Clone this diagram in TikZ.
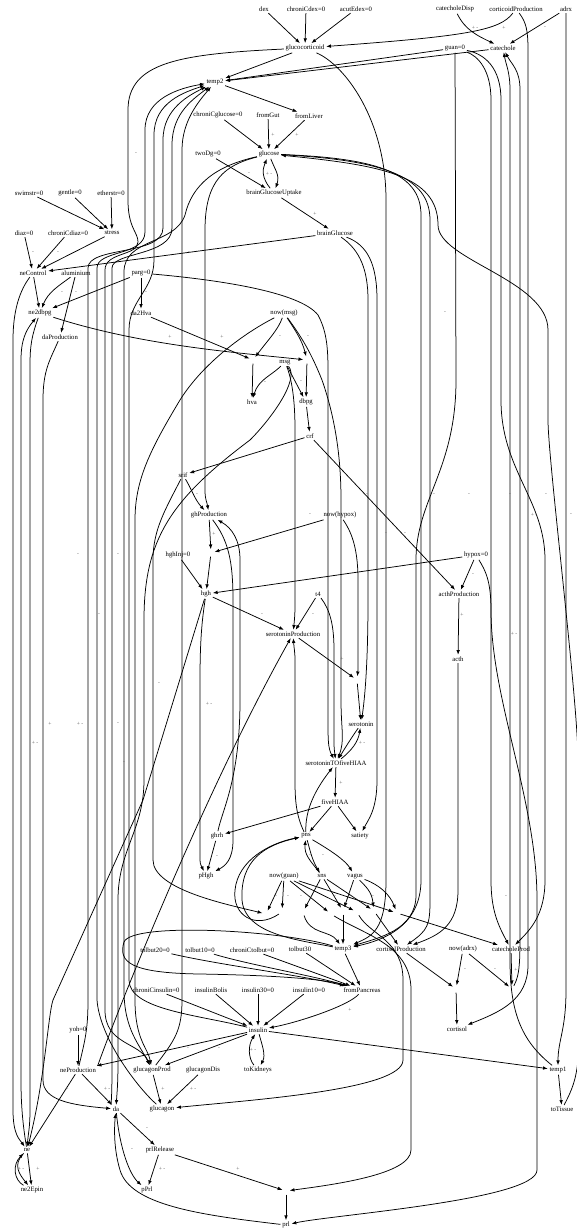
\documentclass[tikz,border=0pt]{standalone}
\usepackage{fontspec}
\setmainfont{Liberation Serif}
\usetikzlibrary{arrows.meta}
\tikzset{
  n/.style={font=\fontsize{6.7}{7}\selectfont, inner sep=1.6pt},
  pt/.style={inner sep=0pt, minimum size=7pt, shape=circle},
  e/.style={-{Latex[length=4.8pt,width=3.6pt]}, line width=0.75pt},
  lb/.style={font=\fontsize{5.6}{5.6}\selectfont, text=black!62, inner sep=0pt}
}
\begin{document}
\begin{tikzpicture}[x=1pt,y=-1pt]
\useasboundingbox (0,0) rectangle (576,1231);
\fill[white] (0,0) rectangle (576,1231);
% ---------- variables ----------
\node[n] (dex) at (264,9) {dex};
\node[n] (chroniCdex) at (306,9) {chroniCdex=0};
\node[n] (acutEdex) at (356,9) {acutEdex=0};
\node[n] (catecholeDisp) at (455,9) {catecholeDisp};
\node[n] (corticoidProduction) at (516,9) {corticoidProduction};
\node[n] (adrx) at (566,9) {adrx};
\node[n] (glucocorticoid) at (305,48) {glucocorticoid};
\node[n] (guan) at (455,48) {guan=0};
\node[n] (catechole) at (503,48) {catechole};
\node[n] (temp2) at (215,82) {temp2};
\node[n] (chroniCglucose) at (218,115) {chroniCglucose=0};
\node[n] (fromGut) at (268,115) {fromGut};
\node[n] (fromLiver) at (309,116) {fromLiver};
\node[n] (twoDg) at (208,154) {twoDg=0};
\node[n] (glucose) at (269,154) {glucose};
\node[n] (bgu) at (274,193) {brainGlucoseUptake};
\node[n] (swimstr) at (29,193) {swimstr=0};
\node[n] (gentle) at (70,193) {gentle=0};
\node[n] (etherstr) at (111,193) {etherstr=0};
\node[n] (brainGlucose) at (335,233) {brainGlucose};
\node[n] (diaz) at (24,233) {diaz=0};
\node[n] (chroniCdiaz) at (68,233) {chroniCdiaz=0};
\node[n] (stress) at (112,233) {stress};
\node[n] (neControl) at (33,273) {neControl};
\node[n] (aluminium) at (76,273) {aluminium};
\node[n] (parg) at (141,273) {parg=0};
\node[n] (ne2dbpg) at (40,313) {ne2dbpg};
\node[n] (da2Hva) at (141,313) {da2Hva};
\node[n] (nowmsg) at (284,313) {now(msg)};
\node[n] (daProduction) at (60,337) {daProduction};
\node[n] (msg) at (285,362) {msg};
\node[n] (hva) at (252,402) {hva};
\node[n] (dbpg) at (306,402) {dbpg};
\node[n] (crf) at (310,436) {crf};
\node[n] (srif) at (183,475) {srif};
\node[n] (ghProduction) at (209,515) {ghProduction};
\node[n] (nowhypox) at (340,515) {now(hypox)};
\node[n] (hghInj) at (178,555) {hghInj=0};
\node[n] (hypox) at (476,555) {hypox=0};
\node[n] (hgh) at (206,594) {hgh};
\node[n] (t4) at (318,594) {t4};
\node[n] (acthProduction) at (459,594) {acthProduction};
\node[n] (serotoninProduction) at (293,634) {serotoninProduction};
\node[n] (acth) at (458,659) {acth};
\node[n] (serotonin) at (361,724) {serotonin};
\node[n] (s2f) at (336,763) {serotoninTOfiveHIAA};
\node[n] (fiveHIAA) at (335,802) {fiveHIAA};
\node[n] (ghrh) at (217,836) {ghrh};
\node[n] (pns) at (306,836) {pns};
\node[n] (satiety) at (360,836) {satiety};
\node[n] (pHgh) at (206,876) {pHgh};
\node[n] (nowguan) at (284,876) {now(guan)};
\node[n] (sns) at (322,876) {sns};
\node[n] (vagus) at (355,876) {vagus};
\node[n] (tolbut20) at (155,950) {tolbut20=0};
\node[n] (tolbut10) at (200,950) {tolbut10=0};
\node[n] (chroniCtolbut) at (252,950) {chroniCtolbut=0};
\node[n] (tolbut30) at (300,949) {tolbut30};
\node[n] (temp3) at (343,949) {temp3};
\node[n] (cortisolProduction) at (401,949) {cortisolProduction};
\node[n] (nowadrx) at (463,949) {now(adrx)};
\node[n] (catecholeProd) at (511,949) {catecholeProd};
\node[n] (chroniCinsulin) at (156,990) {chroniCinsulin=0};
\node[n] (insulinBolis) at (211,990) {insulinBolis};
\node[n] (insulin30) at (258,990) {insulin30=0};
\node[n] (insulin10) at (309,990) {insulin10=0};
\node[n] (fromPancreas) at (362,990) {fromPancreas};
\node[n] (cortisol) at (457,1029) {cortisol};
\node[n] (insulin) at (258,1030) {insulin};
\node[n] (yoh) at (78,1030) {yoh=0};
\node[n] (neProduction) at (78,1070) {neProduction};
\node[n] (glucagonProd) at (152,1070) {glucagonProd};
\node[n] (glucagonDis) at (203,1070) {glucagonDis};
\node[n] (toKidneys) at (258,1070) {toKidneys};
\node[n] (temp1) at (558,1070) {temp1};
\node[n] (da) at (116,1109) {da};
\node[n] (glucagon) at (162,1109) {glucagon};
\node[n] (toTissue) at (562,1109) {toTissue};
\node[n] (ne) at (27,1150) {ne};
\node[n] (prlRelease) at (160,1150) {prlRelease};
\node[n] (ne2Epin) at (32,1190) {ne2Epin};
\node[n] (pPrl) at (147,1190) {pPrl};
\node[n] (prl) at (286,1225) {prl};
% ---------- unlabelled junctions ----------
\node[pt] (Phva) at (253,360) {};
\node[pt] (Pdb) at (307,360) {};
\node[pt] (Phgh) at (211,553) {};
\node[pt] (Pser) at (357,680) {};
\node[pt] (Pcort) at (456,989) {};
\node[pt] (Pcat) at (512,989) {};
\node[pt] (Pprl) at (286,1191) {};
\node[pt] (Q1) at (266,914) {};
\node[pt] (Q2) at (282,912) {};
\node[pt] (Q3) at (303,912) {};
\node[pt] (Q4) at (331,914) {};
\node[pt] (Q5) at (343,911) {};
\node[pt] (Q6) at (357,912) {};
\node[pt] (Q7) at (374,911) {};
\node[pt] (Q8) at (397,913) {};
% ---------- top ----------
\draw[e] (dex) -- (glucocorticoid);
\draw[e] (chroniCdex) -- (glucocorticoid);
\draw[e] (acutEdex) -- (glucocorticoid);
\draw[e] (corticoidProduction) .. controls (500,30) and (470,36) .. (glucocorticoid);
\draw[e] (catecholeDisp) .. controls (465,30) and (478,36) .. (catechole);
\draw[e] (adrx) -- (catechole);
\draw[e] (corticoidProduction) .. controls (526,22) and (528,30) .. (528,50) -- (528,965) .. controls (528,1000) and (500,1012) .. (cortisol);
\draw[e] (adrx) -- (566,990) .. controls (566,1030) and (558,1040) .. (temp1);
\draw[e] (glucocorticoid) -- (temp2);
\draw[e] (guan) -- (temp2);
\draw[e] (catechole) -- (temp2);
\draw[e] (glucocorticoid) .. controls (180,54) and (128,62) .. (128,110) -- (128,200) .. controls (128,228) and (138,232) .. (138,242) .. controls (138,256) and (105,252) .. (105,270) -- (105,1010) .. controls (105,1045) and (140,1042) .. (glucagonProd);
\draw[e] (glucocorticoid) .. controls (345,65) and (386,120) .. (386,200) -- (386,880) .. controls (386,930) and (372,936) .. (temp3);
\draw[e] (guan) -- (456,380) .. controls (456,470) and (416,500) .. (416,560) -- (416,895) .. controls (416,930) and (378,938) .. (temp3);
\draw[e] (guan) .. controls (478,56) and (491,70) .. (491,100) -- (491,880) .. controls (491,910) and (498,925) .. (catecholeProd);
\draw[e] (guan) .. controls (485,54) and (501,68) .. (501,100) -- (501,400) .. controls (501,470) and (545,500) .. (545,560) -- (545,880) .. controls (545,915) and (530,930) .. (catecholeProd);
\draw[e] (Pcat) .. controls (520,975) and (520,960) .. (520,930) -- (520,90) .. controls (520,70) and (512,65) .. (catechole);
\draw[e] (temp1) .. controls (520,1040) and (510,1010) .. (510,960) -- (510,90) .. controls (510,72) and (506,65) .. (catechole);
% ---------- glucose ----------
\draw[e] (chroniCglucose) -- (glucose);
\draw[e] (fromGut) -- (glucose);
\draw[e] (fromLiver) -- (glucose);
\draw[e] (temp2) -- (fromLiver);
\draw[e] (twoDg) -- (bgu);
\draw[e] (glucose) .. controls (275,170) and (280,175) .. (bgu);
\draw[e] (bgu) .. controls (262,178) and (262,170) .. (glucose);
\draw[e] (bgu) -- (brainGlucose);
\draw[e] (brainGlucose) -- (neControl);
\draw[e] (glucose) .. controls (225,165) and (205,180) .. (205,230) -- (205,490) .. controls (205,500) and (207,502) .. (ghProduction);
\draw[e] (glucose) .. controls (215,166) and (192,185) .. (185,215) .. controls (175,245) and (124,238) .. (124,272) -- (124,990) .. controls (124,1030) and (140,1045) .. (glucagonProd);
\draw[e] (glucose) .. controls (370,158) and (421,170) .. (421,215) -- (421,880) .. controls (421,925) and (385,940) .. (temp3);
\draw[e] (glucose) .. controls (380,160) and (430,175) .. (430,220) -- (430,900) .. controls (430,925) and (428,930) .. (cortisolProduction);
\draw[e] (toTissue) .. controls (572,1090) and (576,1080) .. (578,1060) -- (578,760) .. controls (578,700) and (548,460) .. (548,420) -- (548,330) .. controls (548,280) and (438,260) .. (438,225) .. controls (438,175) and (380,165) .. (glucose);
% ---------- stress, ne control ----------
\draw[e] (swimstr) -- (stress);
\draw[e] (gentle) -- (stress);
\draw[e] (etherstr) -- (stress);
\draw[e] (diaz) -- (neControl);
\draw[e] (chroniCdiaz) -- (neControl);
\draw[e] (stress) -- (neControl);
\draw[e] (neControl) -- (ne2dbpg);
\draw[e] (aluminium) .. controls (60,285) and (48,292) .. (ne2dbpg);
\draw[e] (aluminium) -- (daProduction);
\draw[e] (parg) -- (ne2dbpg);
\draw[e] (parg) -- (da2Hva);
\draw[e] (parg) .. controls (220,280) and (300,292) .. (318,315) .. controls (326,330) and (328,345) .. (328,370) -- (328,720) .. controls (328,740) and (328,748) .. (s2f);
\draw[e] (neControl) .. controls (20,290) and (13,310) .. (13,340) -- (13,1110) .. controls (13,1135) and (20,1140) .. (ne);
\draw[e] (ne) .. controls (22,1120) and (21,1100) .. (21,1080) -- (21,360) .. controls (21,340) and (26,330) .. (ne2dbpg);
\draw[e] (ne2dbpg) .. controls (32,335) and (30,345) .. (30,365) -- (30,1110) .. controls (30,1128) and (28,1135) .. (ne);
\draw[e] (ne2dbpg) .. controls (140,345) and (230,352) .. (Pdb);
\draw[e] (da2Hva) -- (Phva);
\draw[e] (nowmsg) .. controls (278,330) and (268,340) .. (Phva);
\draw[e] (nowmsg) .. controls (295,330) and (302,340) .. (Pdb);
\draw[e] (Phva) -- (hva);
\draw[e] (msg) .. controls (272,375) and (258,380) .. (hva);
\draw[e] (Pdb) -- (dbpg);
\draw[e] (msg) -- (dbpg);
\draw[e] (dbpg) -- (crf);
\draw[e] (crf) -- (srif);
\draw[e] (crf) -- (acthProduction);
\draw[e] (daProduction) .. controls (50,360) and (43,370) .. (43,400) -- (43,1080) .. controls (43,1100) and (70,1105) .. (da);
% ---------- msg / da bundle ----------
\draw[e] (nowmsg) .. controls (300,335) and (310,350) .. (322,380) .. controls (336,420) and (341,460) .. (341,500) -- (341,700) .. controls (341,730) and (345,740) .. (s2f);
\draw[e] (nowmsg) .. controls (250,330) and (205,360) .. (180,400) .. controls (150,450) and (135,480) .. (135,520) -- (135,1000) .. controls (135,1040) and (148,1048) .. (glucagonProd);
\draw[e] (msg) .. controls (300,380) and (270,420) .. (250,440) .. controls (170,500) and (144,540) .. (144,620) -- (144,780) .. controls (144,830) and (118,850) .. (118,900) -- (118,1060) .. controls (118,1085) and (117,1092) .. (da);
\draw[e] (msg) .. controls (292,380) and (295,400) .. (295,430) -- (295,600) .. controls (295,610) and (295,615) .. (serotoninProduction);
\draw[e] (glucagon) .. controls (140,1090) and (100,1040) .. (97,1000) -- (97,268) .. controls (97,250) and (145,256) .. (145,232) -- (145,130) .. controls (145,98) and (180,88) .. (temp2);
\draw[e] (insulin) .. controls (200,1015) and (129,1010) .. (129,980) -- (129,330) .. controls (129,300) and (154,290) .. (154,260) -- (154,135) .. controls (154,102) and (185,92) .. (temp2);
\draw[e] (neProduction) .. controls (85,1040) and (88,1030) .. (88,1000) -- (88,268) .. controls (88,246) and (163,256) .. (163,228) -- (163,140) .. controls (163,108) and (190,95) .. (temp2);
\draw[e] (da.north west) .. controls (112,1092) and (112,1080) .. (112,1050) -- (112,268) .. controls (112,252) and (172,256) .. (172,228) -- (172,145) .. controls (172,112) and (195,98) .. (temp2);
\draw[e] (glucagonProd) .. controls (175,1040) and (182,1030) .. (182,1000) -- (182,150) .. controls (182,120) and (200,100) .. (temp2);
% ---------- growth hormone ----------
\draw[e] (srif) .. controls (192,490) and (195,500) .. (ghProduction);
\draw[e] (srif) .. controls (165,510) and (153,530) .. (153,560) -- (153,860) .. controls (153,890) and (230,905) .. (Q1);
\draw[e] (ghProduction) -- (Phgh);
\draw[e] (nowhypox) -- (Phgh);
\draw[e] (Phgh) -- (hgh);
\draw[e] (hghInj) -- (hgh);
\draw[e] (hypox) -- (hgh);
\draw[e] (hypox) -- (acthProduction);
\draw[e] (hypox) .. controls (485,570) and (491,580) .. (491,610) .. controls (491,700) and (537,800) .. (537,900) -- (537,1170) .. controls (537,1200) and (330,1215) .. (prl);
\draw[e] (acthProduction) -- (acth);
\draw[e] (acth) -- (458,890) .. controls (458,925) and (440,935) .. (cortisolProduction);
\draw[e] (ghProduction) .. controls (228,540) and (233,560) .. (233,600) -- (233,840) .. controls (233,860) and (225,866) .. (pHgh);
\draw[e] (ghrh) .. controls (222,810) and (240,780) .. (240,700) -- (240,560) .. controls (240,540) and (232,528) .. (ghProduction);
\draw[e] (ghrh) -- (pHgh);
\draw[e] (hgh) .. controls (202,620) and (200,640) .. (200,680) -- (200,860) .. controls (200,865) and (202,867) .. (pHgh);
\draw[e] (hgh) -- (serotoninProduction);
\draw[e] (hgh) -- (143,800) -- (53,1000) .. controls (48,1015) and (45,1080) .. (ne);
\draw[e] (neProduction.north east) .. controls (110,1030) and (200,800) .. (serotoninProduction);
% ---------- serotonin ----------
\draw[e] (t4) -- (serotoninProduction);
\draw[e] (t4) .. controls (330,610) and (334,625) .. (334,650) -- (334,740) .. controls (334,745) and (334,748) .. (s2f);
\draw[e] (nowhypox) .. controls (350,530) and (358,545) .. (358,580) -- (358,660) .. controls (358,665) and (358,670) .. (Pser);
\draw[e] (serotoninProduction) -- (Pser);
\draw[e] (Pser) -- (serotonin);
\draw[e] (brainGlucose) .. controls (360,250) and (368,270) .. (368,300) -- (368,600) .. controls (368,650) and (366,690) .. (serotonin);
\draw[e] (brainGlucose) .. controls (368,245) and (377,265) .. (377,300) -- (377,780) .. controls (377,810) and (368,820) .. (satiety);
\draw[e] (serotonin) .. controls (350,740) and (345,748) .. (s2f);
\draw[e] (s2f) .. controls (352,750) and (358,742) .. (serotonin);
\draw[e] (s2f) -- (fiveHIAA);
\draw[e] (fiveHIAA) -- (pns);
\draw[e] (fiveHIAA) -- (satiety);
\draw[e] (fiveHIAA) -- (ghrh);
\draw[e] (pns) .. controls (305,810) and (315,790) .. (s2f);
\draw[e] (pns) .. controls (296,815) and (295,800) .. (295,780) -- (295,660) .. controls (295,652) and (294,648) .. (serotoninProduction);
% ---------- autonomic ----------
\draw[e] (pns) .. controls (310,850) and (312,860) .. (sns);
\draw[e] (sns) .. controls (310,860) and (304,855) .. (pns);
\draw[e] (pns) .. controls (330,850) and (345,860) .. (vagus);
\draw[e] (temp3) .. controls (300,940) and (245,935) .. (242,900) .. controls (240,860) and (265,845) .. (pns);
\draw[e] (Q2) .. controls (255,930) and (232,915) .. (235,890) .. controls (238,860) and (270,843) .. (pns);
\draw[e] (nowguan) -- (Q1);
\draw[e] (nowguan) -- (Q2);
\draw[e] (nowguan) -- (Q4);
\draw[e] (nowguan) -- (Q6);
\draw[e] (nowguan) -- (Q8);
\draw[e] (sns) -- (Q3);
\draw[e] (sns) -- (Q5);
\draw[e] (sns) -- (Q7);
\draw[e] (vagus) -- (Q5);
\draw[e] (vagus) .. controls (370,890) and (372,895) .. (Q7);
\draw[e] (vagus) .. controls (380,885) and (390,895) .. (Q8);
\draw[e] (Q5) -- (temp3);
\draw[e] (Q7) -- (cortisolProduction);
\draw[e] (Q8) -- (catecholeProd);
\draw[e] (Q6) .. controls (370,935) and (403,940) .. (403,980) -- (403,1060) .. controls (403,1090) and (250,1100) .. (glucagon);
\draw[e] (Q4) .. controls (365,935) and (411,945) .. (411,990) -- (411,1150) .. controls (411,1175) and (330,1185) .. (Pprl);
\draw[e] (Q3) .. controls (310,935) and (330,930) .. (temp3);
% ---------- cortisol ----------
\draw[e] (cortisolProduction) -- (Pcort);
\draw[e] (nowadrx) -- (Pcort);
\draw[e] (Pcort) -- (cortisol);
\draw[e] (nowadrx) -- (Pcat);
\draw[e] (catecholeProd) -- (Pcat);
% ---------- pancreas ----------
\draw[e] (tolbut20) .. controls (220,965) and (300,975) .. (fromPancreas);
\draw[e] (tolbut10) .. controls (250,965) and (310,975) .. (fromPancreas);
\draw[e] (chroniCtolbut) -- (fromPancreas);
\draw[e] (tolbut30) -- (fromPancreas);
\draw[e] (temp3) -- (fromPancreas);
\draw[e] (temp3) .. controls (280,930) and (132,922) .. (124,942) .. controls (118,962) and (130,973) .. (200,974) .. controls (260,975) and (320,978) .. (fromPancreas);
\draw[e] (chroniCinsulin) -- (insulin);
\draw[e] (insulinBolis) -- (insulin);
\draw[e] (insulin30) -- (insulin);
\draw[e] (insulin10) -- (insulin);
\draw[e] (fromPancreas) .. controls (350,1005) and (300,1022) .. (insulin);
\draw[e] (insulin) .. controls (262,1045) and (266,1055) .. (toKidneys);
\draw[e] (toKidneys) .. controls (248,1058) and (248,1045) .. (insulin);
\draw[e] (insulin) -- (temp1);
\draw[e] (temp1) -- (toTissue);
\draw[e] (insulin) -- (neProduction);
\draw[e] (insulin) -- (glucagonProd);
\draw[e] (yoh) -- (neProduction);
\draw[e] (neProduction) -- (ne);
\draw[e] (neProduction) -- (da);
\draw[e] (glucagonProd) -- (glucagon);
\draw[e] (glucagonDis) -- (glucagon);
% ---------- bottom ----------
\draw[e] (ne) .. controls (12,1165) and (20,1175) .. (ne2Epin);
\draw[e] (ne2Epin) .. controls (14,1180) and (12,1165) .. (ne);
\draw[e] (ne) -- (ne2Epin);
\draw[e] (da) -- (prlRelease);
\draw[e] (da) .. controls (120,1150) and (130,1175) .. (pPrl);
\draw[e] (prlRelease) -- (pPrl);
\draw[e] (prlRelease) -- (Pprl);
\draw[e] (Pprl) -- (prl);
\draw[e] (prl) .. controls (200,1215) and (130,1205) .. (120,1170) .. controls (114,1150) and (114,1130) .. (da);
% ---------- edge signs ----------
\node[lb] (l01) at (504,28) {+};
\node[lb] (l02) at (475,28) {+ -};
\node[lb] (l03) at (545,28) {-};
\node[lb] (l04) at (136,154) {-};
\node[lb] (l05) at (273,135) {+};
\node[lb] (l06) at (297,135) {+};
\node[lb] (l07) at (269,174) {+ -};
\node[lb] (l08) at (249,174) {-};
\node[lb] (l09) at (315,214) {+};
\node[lb] (l10) at (33,253) {-};
\node[lb] (l11) at (58,253) {-};
\node[lb] (l12) at (189,253) {-};
\node[lb] (l13) at (62,293) {-};
\node[lb] (l14) at (76,293) {-};
\node[lb] (l15) at (146,293) {-};
\node[lb] (l16) at (170,337) {+};
\node[lb] (l17) at (222,337) {+};
\node[lb] (l18) at (280,337) {-};
\node[lb] (l19) at (308,337) {-};
\node[lb] (l20) at (445,313) {-};
\node[lb] (l21) at (265,383) {-};
\node[lb] (l22) at (301,382) {-};
\node[lb] (l23) at (197,495) {-};
\node[lb] (l24) at (214,534) {+};
\node[lb] (l25) at (78,555) {-};
\node[lb] (l26) at (118,555) {-};
\node[lb] (l27) at (367,495) {-};
\node[lb] (l28) at (434,495) {-};
\node[lb] (l29) at (469,495) {-};
\node[lb] (l30) at (510,495) {-};
\node[lb] (l31) at (546,495) {-};
\node[lb] (l32) at (310,515) {-};
\node[lb] (l33) at (534,515) {+ -};
\node[lb] (l34) at (571,515) {-};
\node[lb] (l35) at (386,534) {-};
\node[lb] (l36) at (405,534) {-};
\node[lb] (l37) at (473,575) {-};
\node[lb] (l38) at (99,615) {-};
\node[lb] (l39) at (262,615) {-};
\node[lb] (l40) at (313,615) {-};
\node[lb] (l41) at (462,615) {+};
\node[lb] (l42) at (514,634) {+ -};
\node[lb] (l43) at (342,659) {+};
\node[lb] (l44) at (159,684) {-};
\node[lb] (l45) at (209,704) {+ -};
\node[lb] (l46) at (50,724) {+};
\node[lb] (l47) at (80,724) {+ -};
\node[lb] (l48) at (118,724) {-};
\node[lb] (l49) at (35,743) {+ -};
\node[lb] (l50) at (362,743) {+ -};
\node[lb] (l51) at (124,763) {-};
\node[lb] (l52) at (341,783) {+};
\node[lb] (l53) at (217,857) {-};
\node[lb] (l54) at (310,856) {-};
\node[lb] (l55) at (323,856) {-};
\node[lb] (l56) at (276,897) {-};
\node[lb] (l57) at (288,897) {-};
\node[lb] (l58) at (301,897) {-};
\node[lb] (l59) at (335,897) {-};
\node[lb] (l60) at (350,897) {-};
\node[lb] (l61) at (373,897) {-};
\node[lb] (l62) at (506,897) {-};
\node[lb] (l63) at (465,970) {-};
\node[lb] (l64) at (495,970) {-};
\node[lb] (l65) at (516,970) {+};
\node[lb] (l66) at (350,1010) {+};
\node[lb] (l67) at (188,1049) {-};
\node[lb] (l68) at (219,1049) {-};
\node[lb] (l69) at (253,1050) {+ -};
\node[lb] (l70) at (67,1089) {+};
\node[lb] (l71) at (107,1089) {+ -};
\node[lb] (l72) at (163,1089) {+};
\node[lb] (l73) at (193,1089) {+ -};
\node[lb] (l74) at (147,1129) {-};
\node[lb] (l75) at (132,1150) {-};
\node[lb] (l76) at (21,1169) {+ -};
\node[lb] (l77) at (38,1169) {+};
\node[lb] (l78) at (162,1169) {+ -};
\node[lb] (l79) at (238,1169) {+};
\end{tikzpicture}
\end{document}
